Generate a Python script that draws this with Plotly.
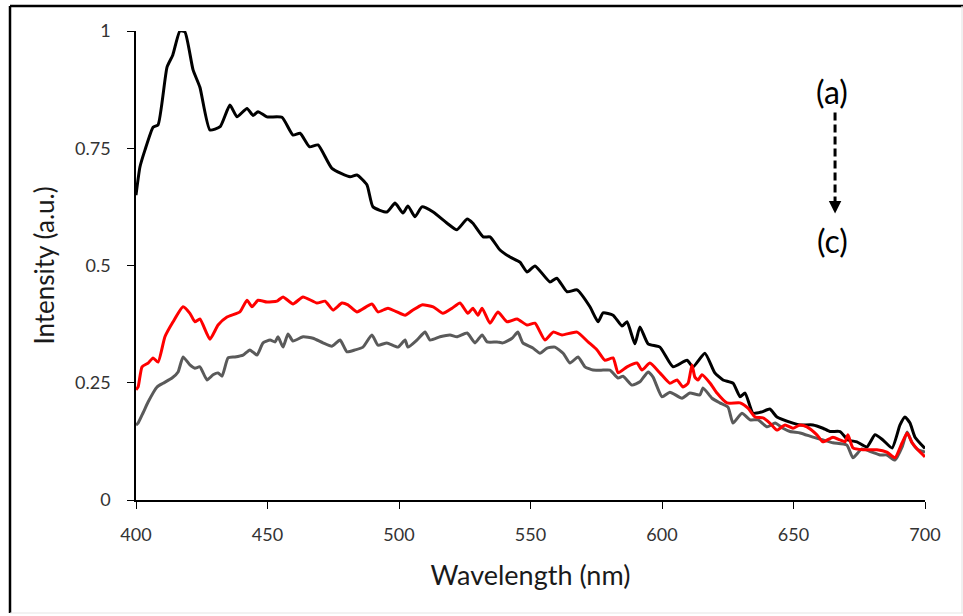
import plotly.graph_objects as go

# ---- data ----
wl_a = [400, 401.5, 403.4, 406.5, 408.4, 411.8, 414, 416.7, 418.6, 421.7, 424.3, 428.1, 432, 435.7,
        438.4, 442.2, 444.5, 446.4, 449.8, 455.5, 459.7, 462.4, 466, 469.2, 474.5, 481.4, 484, 487.8,
        490.1, 495.4, 498.5, 501.5, 503.4, 506.1, 508.7, 513, 518.3, 522, 525.9, 528.1, 532, 534.6,
        538.4, 542.2, 546, 548.7, 551.7, 557.4, 560, 563.9, 567.7, 572.6, 575.7, 577.6, 581.4, 584.8,
        586.7, 589.7, 591.6, 594.7, 599.2, 604.2, 609.5, 611.8, 616.3, 620.1, 623.2, 627, 629.7, 631.6,
        634.6, 638, 641, 643.7, 649.8, 652.5, 657.4, 661.2, 663.9, 667.7, 670.7, 674.1, 677.9, 681,
        684, 687.5, 690.5, 692.4, 694.3, 696.2, 700]
int_a = [0.65, 0.71, 0.746, 0.795, 0.80, 0.923, 0.949, 1.0, 0.998, 0.917, 0.88, 0.789, 0.796, 0.842,
         0.817, 0.835, 0.82, 0.828, 0.817, 0.816, 0.778, 0.782, 0.753, 0.757, 0.707, 0.689, 0.693, 0.672,
         0.625, 0.614, 0.633, 0.612, 0.627, 0.604, 0.625, 0.614, 0.59, 0.576, 0.599, 0.59, 0.561, 0.561,
         0.533, 0.518, 0.507, 0.486, 0.499, 0.465, 0.473, 0.444, 0.448, 0.412, 0.38, 0.399, 0.394, 0.371,
         0.38, 0.333, 0.369, 0.333, 0.326, 0.284, 0.298, 0.284, 0.313, 0.271, 0.256, 0.249, 0.22, 0.228,
         0.185, 0.188, 0.194, 0.177, 0.164, 0.16, 0.16, 0.153, 0.146, 0.146, 0.128, 0.124, 0.113, 0.139,
         0.128, 0.111, 0.16, 0.177, 0.164, 0.134, 0.11]

wl_b = [400, 400.8, 402.3, 404.6, 406.5, 408.4, 411, 414.1, 417.9, 420.5, 422.4, 424.3, 428.1, 431.2,
        434.6, 439.5, 442.2, 444.1, 446.4, 449.8, 453.6, 455.9, 459.7, 463.5, 468.8, 471.9, 474.9, 478.3,
        480.6, 484, 489.7, 492, 495.8, 499.2, 502.3, 505.3, 508.7, 513, 516.7, 520.2, 523.2, 526.2, 528.1,
        530, 531.6, 534.6, 537.6, 541.1, 544.9, 548.7, 551.7, 555.5, 558.6, 562, 567.7, 571.9, 575.3,
        578.3, 581.4, 583.3, 586.7, 590.5, 592.4, 595.4, 599.2, 603, 605.7, 608, 609.9, 611.4, 612.5,
        613.7, 615.2, 618.3, 620.9, 624.7, 629.7, 632.7, 635.4, 638.4, 641, 643.7, 646.8, 649.8, 652.5,
        655.1, 658.9, 661.2, 665, 667.7, 669.6, 670.7, 672.6, 676.4, 681.7, 685.5, 688.6, 691.3, 693.2,
        695.1, 697.3, 700]
int_b = [0.235, 0.241, 0.284, 0.292, 0.303, 0.294, 0.348, 0.38, 0.412, 0.398, 0.38, 0.386, 0.343, 0.373,
         0.39, 0.401, 0.426, 0.412, 0.426, 0.422, 0.424, 0.433, 0.418, 0.433, 0.42, 0.424, 0.405, 0.42,
         0.416, 0.401, 0.418, 0.401, 0.409, 0.401, 0.394, 0.405, 0.416, 0.412, 0.398, 0.409, 0.42, 0.398,
         0.409, 0.394, 0.409, 0.377, 0.401, 0.38, 0.386, 0.373, 0.377, 0.341, 0.358, 0.352, 0.358, 0.337,
         0.32, 0.298, 0.303, 0.271, 0.284, 0.292, 0.277, 0.292, 0.271, 0.249, 0.256, 0.241, 0.249, 0.288,
         0.262, 0.256, 0.267, 0.249, 0.228, 0.207, 0.207, 0.196, 0.177, 0.175, 0.164, 0.149, 0.16, 0.153,
         0.16, 0.156, 0.139, 0.124, 0.134, 0.128, 0.124, 0.139, 0.111, 0.107, 0.107, 0.102, 0.09, 0.122,
         0.143, 0.122, 0.107, 0.092]

wl_c = [400, 400.8, 402.7, 404.6, 408, 410.3, 413.7, 416, 417.9, 420.5, 422.4, 424.3, 427, 429.3, 431.2,
        432.7, 435, 437.6, 440.7, 443.3, 446, 448.3, 451, 452.9, 454, 455.9, 457.8, 459.7, 463.5, 467.3,
        471.1, 474.5, 477.6, 480.2, 483.3, 486.3, 489.7, 492, 495.4, 499.6, 502.3, 503.4, 506.8, 509.9,
        511.8, 515.6, 519.4, 522, 525.9, 528.9, 531.6, 533.5, 537.3, 539.5, 543, 545.2, 547.1, 550.9,
        553.6, 556.3, 559.3, 562.4, 565, 568.1, 570.7, 573.8, 577.6, 580.2, 583.3, 585.2, 588.6, 591.6,
        594.7, 596.6, 600, 603, 607.6, 610.6, 614.4, 615.6, 619, 622, 625.1, 627, 630.4, 633.5, 636.5,
        640, 643, 646, 648.7, 652.5, 657.4, 661.2, 665, 670.3, 672.6, 676, 679.8, 682.9, 685.5, 688.6,
        691.3, 693.2, 695.1, 697.3, 700]
int_c = [0.16, 0.164, 0.186, 0.209, 0.241, 0.249, 0.26, 0.273, 0.305, 0.288, 0.281, 0.284, 0.256, 0.267,
         0.271, 0.264, 0.303, 0.305, 0.309, 0.32, 0.309, 0.335, 0.341, 0.337, 0.348, 0.326, 0.354, 0.339,
         0.348, 0.345, 0.335, 0.328, 0.341, 0.316, 0.32, 0.326, 0.352, 0.33, 0.335, 0.326, 0.341, 0.326,
         0.341, 0.358, 0.341, 0.348, 0.352, 0.348, 0.356, 0.335, 0.352, 0.337, 0.337, 0.335, 0.345, 0.358,
         0.335, 0.324, 0.313, 0.324, 0.326, 0.313, 0.292, 0.305, 0.284, 0.277, 0.277, 0.277, 0.26, 0.264,
         0.245, 0.252, 0.273, 0.262, 0.22, 0.23, 0.217, 0.228, 0.224, 0.239, 0.217, 0.207, 0.198, 0.164,
         0.185, 0.171, 0.171, 0.156, 0.164, 0.153, 0.146, 0.143, 0.134, 0.128, 0.122, 0.117, 0.09, 0.109,
         0.102, 0.096, 0.096, 0.085, 0.113, 0.145, 0.122, 0.107, 0.102]

x_ticks = [400, 450, 500, 550, 600, 650, 700]
y_ticks = [0, 0.25, 0.5, 0.75, 1]
y_tick_text = ["0", "0.25", "0.5", "0.75", "1"]

FONT = "Lato"
W, H = 963, 616
ML, MR, MT, MB = 136, 38, 31, 116
PW, PH = W - ML - MR, H - MT - MB


def px_x(p):
    return (p - ML) / PW


def px_y(p):
    return (H - MB - p) / PH


fig = go.Figure()
line_common = dict(width=3, shape="spline", smoothing=0.5)
fig.add_trace(go.Scatter(x=wl_a, y=int_a, mode="lines", name="(a)",
                         line=dict(color="#000000", **line_common), cliponaxis=False))
fig.add_trace(go.Scatter(x=wl_c, y=int_c, mode="lines", name="(c)",
                         line=dict(color="#5a5a5a", **line_common), cliponaxis=False))
fig.add_trace(go.Scatter(x=wl_b, y=int_b, mode="lines", name="(b)",
                         line=dict(color="#ff0000", **line_common), cliponaxis=False))

fig.update_layout(
    width=W, height=H,
    margin=dict(l=ML, r=MR, t=MT, b=MB, pad=0),
    paper_bgcolor="white", plot_bgcolor="white",
    showlegend=False,
    font=dict(family=FONT, color="#404040"),
    xaxis=dict(range=[400, 700], tickvals=x_ticks, ticks="outside", ticklen=7, tickwidth=1.3,
               tickcolor="#000", showline=True, linecolor="#000", linewidth=1.6, showgrid=False,
               zeroline=False, tickfont=dict(size=18, color="#333333"), ticklabelstandoff=11,
               title=dict(text="Wavelength (nm)", font=dict(size=27, color="#1a1a1a"), standoff=22)),
    yaxis=dict(range=[0, 1], tickvals=y_ticks, ticktext=y_tick_text, ticks="outside", ticklen=7,
               tickwidth=1.3, tickcolor="#000", showline=True, linecolor="#000", linewidth=1.6,
               showgrid=False, zeroline=False, tickfont=dict(size=18, color="#333333"),
               ticklabelstandoff=13,
               title=dict(text="Intensity (a.u.)", font=dict(size=26, color="#1a1a1a"), standoff=13)),
)

# outer frame
fig.add_shape(type="line", xref="paper", yref="paper", x0=px_x(10), x1=px_x(963), y0=px_y(6), y1=px_y(6),
              line=dict(color="#000", width=2.5))
fig.add_shape(type="line", xref="paper", yref="paper", x0=px_x(10), x1=px_x(10), y0=px_y(6), y1=px_y(613),
              line=dict(color="#000", width=2.5))
fig.add_shape(type="line", xref="paper", yref="paper", x0=px_x(10), x1=px_x(963), y0=px_y(613), y1=px_y(613),
              line=dict(color="#e6e6e6", width=1.2))
fig.add_shape(type="line", xref="paper", yref="paper", x0=px_x(962), x1=px_x(962), y0=px_y(6), y1=px_y(613),
              line=dict(color="#e6e6e6", width=1.2))

# (a) -> (c) annotation
fig.add_annotation(x=664.8, y=0.872, text="(a)", showarrow=False, font=dict(size=32, color="#000", family=FONT))
fig.add_annotation(x=664.8, y=0.553, text="(c)", showarrow=False, font=dict(size=32, color="#000", family=FONT))
fig.add_shape(type="line", x0=665.8, x1=665.8, y0=0.826, y1=0.63,
              line=dict(color="#000", width=3, dash="8px,4px"))
fig.add_annotation(x=665.8, y=0.611, ax=0, ay=-12, text="", showarrow=True, arrowhead=2,
                   arrowsize=1, arrowwidth=2.5, arrowcolor="#000")

fig.write_html("out.html")
